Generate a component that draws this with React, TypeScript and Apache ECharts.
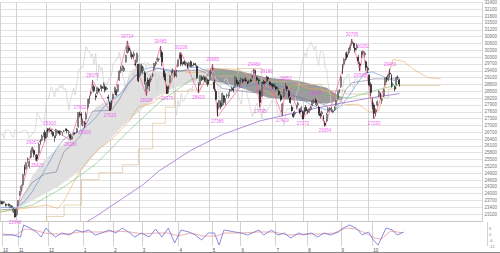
import React, { useEffect, useRef } from "react";
import * as echarts from "echarts";

// Trading days shown (Nikkei 225 daily, Oct 2020 - Oct 2021)
const tradingDays: [string, number[]][] = [
  ["2020-10", [19, 20, 21, 22, 23, 26, 27, 28, 29, 30]],
  ["2020-11", [2, 4, 5, 6, 9, 10, 11, 12, 13, 16, 17, 18, 19, 20, 24, 25, 26, 27, 30]],
  ["2020-12", [1, 2, 3, 4, 7, 8, 9, 10, 11, 14, 15, 16, 17, 18, 21, 22, 23, 24, 25, 28, 29, 30]],
  ["2021-01", [4, 5, 6, 7, 8, 12, 13, 14, 15, 18, 19, 20, 21, 22, 25, 26, 27, 28, 29]],
  ["2021-02", [1, 2, 3, 4, 5, 8, 9, 10, 12, 15, 16, 17, 18, 19, 22, 24, 25, 26]],
  ["2021-03", [1, 2, 3, 4, 5, 8, 9, 10, 11, 12, 15, 16, 17, 18, 19, 22, 23, 24, 25, 26, 29, 30, 31]],
  ["2021-04", [1, 2, 5, 6, 7, 8, 9, 12, 13, 14, 15, 16, 19, 20, 21, 22, 23, 26, 27, 28, 30]],
  ["2021-05", [6, 7, 10, 11, 12, 13, 14, 17, 18, 19, 20, 21, 24, 25, 26, 27, 28, 31]],
  ["2021-06", [1, 2, 3, 4, 7, 8, 9, 10, 11, 14, 15, 16, 17, 18, 21, 22, 23, 24, 25, 28, 29, 30]],
  ["2021-07", [1, 2, 5, 6, 7, 8, 9, 12, 13, 14, 15, 16, 19, 20, 21, 26, 27, 28, 29, 30]],
  ["2021-08", [2, 3, 4, 5, 6, 10, 11, 12, 13, 16, 17, 18, 19, 20, 23, 24, 25, 26, 27, 30, 31]],
  ["2021-09", [1, 2, 3, 6, 7, 8, 9, 10, 13, 14, 15, 16, 17, 21, 22, 24, 27, 28, 29, 30]],
  ["2021-10", [1, 4, 5, 6, 7, 8, 11, 12, 13, 14, 15, 18, 19, 20, 21, 22, 25, 26, 27, 28]],
];
const futureSlots = 52;

// [open, close, low, high]
const candles: number[][] = [
  // Oct 2020
  [23550, 23671, 23540, 23700], [23640, 23567, 23520, 23680], [23600, 23639, 23560, 23680], [23550, 23474, 23430, 23580],
  [23510, 23516, 23440, 23560], [23540, 23494, 23440, 23570], [23400, 23485, 23380, 23520], [23450, 23418, 23390, 23500],
  [23200, 23331, 23150, 23400], [23300, 22977, 22948, 23320],
  // Nov
  [23080, 23295, 23000, 23300], [23500, 23695, 23450, 23720], [23950, 24105, 23900, 24120], [24150, 24325, 24100, 24400],
  [24400, 24839, 24350, 24850], [25200, 24905, 24800, 25280], [25100, 25349, 25050, 25400], [25500, 25520, 25350, 25600],
  [25200, 25385, 25100, 25450], [25600, 25906, 25550, 25910], [25950, 26014, 25800, 26057], [25900, 25728, 25600, 25950],
  [25500, 25634, 25450, 25700], [25700, 25527, 25420, 25750], [25800, 26165, 25700, 26250], [26300, 26297, 26150, 26400],
  [26350, 26537, 26300, 26600], [26600, 26644, 26500, 26700], [26700, 26433, 26300, 26800],
  // Dec
  [26500, 26787, 26450, 26800], [26850, 26800, 26700, 26880], [26750, 26809, 26700, 26900], [26800, 26751, 26600, 26820],
  [26700, 26547, 26500, 26750], [26500, 26467, 26280, 26550], [26550, 26817, 26500, 26850], [26700, 26756, 26650, 26800],
  [26750, 26652, 26550, 26780], [26700, 26732, 26600, 26780], [26650, 26687, 26550, 26700], [26750, 26757, 26700, 26800],
  [26850, 26806, 26750, 26850], [26800, 26763, 26650, 26850], [26700, 26714, 26550, 26800], [26600, 26436, 26360, 26650],
  [26400, 26524, 26380, 26550], [26600, 26668, 26550, 26700], [26650, 26656, 26600, 26700], [26700, 26854, 26650, 26900],
  [26950, 27568, 26900, 27580], [27500, 27444, 27350, 27602],
  // Jan 2021
  [27500, 27258, 27000, 27580], [27150, 27158, 26950, 27280], [27100, 27055, 26900, 27200], [27300, 27490, 27250, 27600],
  [27800, 28139, 27700, 28150], [28000, 28164, 27950, 28300], [28400, 28456, 28300, 28500], [28600, 28698, 28500, 28979],
  [28700, 28519, 28450, 28800], [28300, 28242, 28100, 28400], [28400, 28633, 28350, 28700], [28600, 28523, 28450, 28650],
  [28700, 28756, 28600, 28800], [28700, 28631, 28500, 28760], [28700, 28822, 28600, 28900], [28700, 28546, 28450, 28750],
  [28600, 28635, 28550, 28700], [28250, 28197, 28050, 28350], [28000, 27663, 27629, 28050],
  // Feb
  [27800, 28091, 27700, 28100], [28200, 28362, 28150, 28400], [28500, 28646, 28450, 28700], [28500, 28341, 28300, 28600],
  [28500, 28779, 28450, 28800], [29000, 29388, 28950, 29400], [29400, 29505, 29300, 29600], [29500, 29562, 29400, 29650],
  [29400, 29520, 29350, 29600], [29800, 30084, 29750, 30100], [30200, 30467, 30150, 30714], [30400, 30292, 30200, 30500],
  [30200, 30236, 30000, 30300], [30100, 30017, 29900, 30200], [30050, 30156, 29950, 30250], [29700, 29671, 29600, 29900],
  [29800, 30168, 29750, 30200], [29700, 28966, 28900, 29700],
  // Mar
  [29200, 29663, 29100, 29700], [29600, 29408, 29300, 29700], [29400, 29559, 29300, 29600], [29300, 28930, 28800, 29400],
  [28500, 28864, 28308, 28900], [29000, 28743, 28600, 29100], [28700, 29027, 28500, 29100], [29000, 29036, 28900, 29200],
  [29200, 29211, 29100, 29300], [29500, 29717, 29400, 29750], [29700, 29766, 29600, 29800], [29900, 29921, 29800, 30000],
  [29900, 29914, 29800, 29950], [30100, 30216, 30000, 30485], [30200, 29792, 29600, 30300], [29400, 29174, 29100, 29500],
  [29200, 28995, 28900, 29300], [28700, 28405, 28379, 28800], [28600, 28729, 28400, 28750], [28900, 29176, 28850, 29200],
  [29300, 29384, 29200, 29400], [29400, 29432, 29300, 29500], [29300, 29178, 29100, 29400],
  // Apr
  [29200, 29388, 29100, 29450], [29600, 29854, 29550, 29900], [30000, 30089, 29900, 30200], [30100, 29696, 29600, 30208],
  [29700, 29730, 29600, 29800], [29800, 29708, 29650, 29850], [29700, 29768, 29600, 29800], [29700, 29538, 29500, 29750],
  [29600, 29751, 29550, 29800], [29800, 29620, 29550, 29850], [29600, 29642, 29550, 29700], [29700, 29683, 29600, 29750],
  [29700, 29685, 29600, 29750], [29600, 29100, 29050, 29650], [28800, 28508, 28419, 28900], [28800, 29188, 28750, 29200],
  [29100, 29020, 28950, 29200], [29100, 29126, 29000, 29200], [29100, 28991, 28900, 29150], [28900, 29053, 28800, 29100],
  [29000, 28812, 28700, 29050],
  // May
  [29000, 29331, 28950, 29400], [29300, 29357, 29200, 29450], [29500, 29518, 29400, 29685], [28900, 28608, 28500, 29000],
  [28500, 28147, 28100, 28600], [28000, 27448, 27385, 28000], [27800, 28084, 27700, 28100], [28000, 27824, 27700, 28100],
  [27900, 28406, 27850, 28450], [28300, 28044, 27900, 28350], [28000, 28098, 27900, 28200], [28300, 28317, 28200, 28400],
  [28300, 28364, 28200, 28450], [28500, 28553, 28400, 28600], [28600, 28642, 28500, 28700], [28600, 28549, 28450, 28700],
  [28700, 29149, 28650, 29170], [29000, 28860, 28800, 29100],
  // Jun
  [28900, 28814, 28700, 29000], [28800, 28946, 28700, 29000], [29000, 29058, 28900, 29100], [29000, 28941, 28850, 29050],
  [29000, 29019, 28950, 29100], [29000, 28963, 28900, 29100], [28900, 28860, 28800, 28950], [28900, 28958, 28850, 29000],
  [29000, 28948, 28900, 29050], [29100, 29161, 29050, 29200], [29300, 29441, 29250, 29480], [29400, 29291, 29200, 29450],
  [29100, 29018, 28950, 29150], [29000, 28964, 28800, 29050], [28500, 28010, 27795, 28550], [28300, 28884, 28250, 28900],
  [28900, 28874, 28800, 29000], [28900, 28875, 28800, 28950], [28950, 29066, 28900, 29180], [29100, 29048, 28950, 29150],
  [28900, 28812, 28750, 28950], [28800, 28791, 28700, 28850],
  // Jul
  [28800, 28707, 28600, 28850], [28700, 28783, 28650, 28850], [28700, 28598, 28550, 28750], [28600, 28643, 28550, 28700],
  [28500, 28366, 28300, 28550], [28300, 28118, 28050, 28400], [27600, 27940, 27419, 28000], [28300, 28569, 28250, 28600],
  [28700, 28718, 28600, 28852], [28700, 28608, 28500, 28750], [28500, 28279, 28200, 28550], [28200, 28003, 27950, 28250],
  [27800, 27652, 27600, 27900], [27500, 27388, 27330, 27600], [27500, 27548, 27400, 27650], [27800, 27833, 27700, 27900],
  [27900, 27970, 27850, 28050], [27700, 27581, 27500, 27750], [27700, 27782, 27600, 27850], [27600, 27283, 27272, 27650],
  // Aug
  [27500, 27781, 27450, 27800], [27800, 27641, 27600, 27900], [27600, 27584, 27500, 27700], [27600, 27728, 27550, 27750],
  [27700, 27820, 27650, 27850], [27900, 28070, 27850, 28100], [28000, 28070, 27950, 28150], [28100, 28015, 27900, 28200],
  [27900, 27977, 27850, 28050], [27800, 27523, 27450, 27850], [27500, 27424, 27300, 27550], [27500, 27585, 27400, 27650],
  [27400, 27281, 27200, 27450], [27100, 27013, 26954, 27200], [27200, 27494, 27150, 27550], [27600, 27732, 27550, 27800],
  [27700, 27724, 27650, 27800], [27700, 27742, 27600, 27800], [27600, 27641, 27550, 27700], [27700, 27789, 27650, 27850],
  [27900, 28089, 27850, 28100],
  // Sep
  [28200, 28451, 28150, 28500], [28500, 28543, 28400, 28600], [28700, 29128, 28650, 29150], [29300, 29659, 29250, 29700],
  [29700, 29916, 29650, 29950], [29900, 30181, 29850, 30200], [30100, 30008, 29950, 30250], [30200, 30381, 30100, 30400],
  [30400, 30447, 30300, 30550], [30600, 30670, 30500, 30795], [30600, 30511, 30400, 30650], [30400, 30323, 30200, 30500],
  [30400, 30500, 30300, 30600], [30000, 29839, 29700, 30100], [29700, 29639, 29388, 29800], [30000, 30248, 29950, 30250],
  [30200, 30240, 30100, 30282], [30100, 30183, 30000, 30250], [29800, 29544, 29400, 29850], [29500, 29452, 29300, 29600],
  // Oct
  [29200, 28771, 28700, 29250], [28800, 28444, 28300, 28900], [28100, 27822, 27700, 28200], [27900, 27528, 27293, 28000],
  [27600, 27678, 27400, 27750], [27900, 28048, 27850, 28100], [28300, 28498, 28250, 28550], [28400, 28230, 28150, 28450],
  [28100, 28140, 27950, 28200], [28300, 28550, 28250, 28600], [28800, 29068, 28750, 29100], [29100, 29025, 28900, 29150],
  [29000, 29215, 28950, 29250], [29300, 29255, 29100, 29489], [29200, 28708, 28650, 29250], [28800, 28804, 28700, 28900],
  [28700, 28600, 28500, 28750], [28800, 29106, 28750, 29150], [29100, 29098, 29000, 29200], [29000, 28820, 28700, 29050],
];

// Swing points (index, price)
const swingHighs: number[][] = [
  [20, 26057], [31, 26900], [50, 27602], [58, 28979], [80, 30714], [101, 30485], [114, 30208], [134, 29685],
  [160, 29480], [168, 29180], [180, 28852], [199, 28200], [222, 30795], [229, 30282], [246, 29489],
];
const swingLows: number[][] = [
  [9, 22948], [23, 25420], [44, 26360], [53, 26900], [69, 27629], [92, 28308], [105, 28379], [125, 28419],
  [137, 27385], [164, 27795], [178, 27419], [191, 27272], [205, 26954], [227, 29388], [236, 27293],
];

// Moving averages (index, price)
const ma25: number[][] = [
  [0, 23400], [10, 23380], [15, 23650], [20, 24100], [25, 24700], [30, 25300], [35, 25950], [40, 26400], [45, 26600],
  [50, 26750], [55, 27000], [60, 27350], [65, 27800], [70, 28100], [75, 28350], [80, 28750], [85, 29200], [90, 29450],
  [95, 29550], [100, 29500], [105, 29400], [110, 29350], [115, 29400], [120, 29550], [125, 29550], [130, 29400],
  [135, 29250], [140, 28950], [145, 28700], [150, 28650], [155, 28700], [160, 28800], [165, 28850], [170, 28850],
  [175, 28800], [180, 28600], [185, 28350], [190, 28150], [195, 27950], [200, 27800], [205, 27700], [210, 27600],
  [215, 27850], [220, 28300], [225, 28800], [230, 29300], [235, 29350], [240, 29200], [245, 29050], [252, 28900],
];
const ma75: number[][] = [
  [0, 23200], [20, 23500], [40, 24300], [60, 25300], [80, 26700], [100, 28000], [120, 29000], [140, 29350],
  [160, 29000], [180, 28800], [200, 28400], [220, 28200], [240, 28600], [252, 28800],
];
const ma200: number[][] = [
  [40, 22300], [48, 22500], [60, 23000], [75, 23700], [90, 24400], [100, 25000], [120, 25900], [140, 26600],
  [164, 27200], [192, 27650], [213, 27950], [233, 28200], [252, 28400],
];
const kijun: number[][] = [
  [0, 23300], [10, 23324], [14, 23900], [20, 24500], [28, 24875], [35, 24950], [38, 25500], [40, 25850], [45, 26150],
  [50, 26510], [55, 27213], [58, 27627], [70, 27665], [75, 28150], [80, 28807], [85, 29171], [100, 29511],
  [110, 29396], [125, 29432], [130, 29294], [137, 28797], [140, 28618], [150, 28535], [160, 28433], [166, 28638],
  [178, 28450], [187, 28255], [195, 28111], [205, 27903], [210, 27577], [215, 28052], [218, 28577], [222, 28875],
  [231, 28972], [236, 29044], [252, 29044],
];
const spanA: number[][] = [
  [0, 23200], [29, 23500], [36, 23350], [40, 23670], [45, 24360], [51, 25090], [56, 25525], [62, 25960], [70, 26375],
  [77, 26875], [81, 27175], [87, 27815], [96, 27980], [104, 28430], [110, 29430], [118, 29340], [126, 29330],
  [134, 29470], [142, 29490], [150, 29470], [158, 29110], [165, 28610], [172, 28315], [180, 28640], [188, 28785],
  [195, 28615], [203, 28595], [210, 28330], [218, 27910], [226, 27930], [233, 27580], [239, 27650], [245, 29200],
  [248, 29900], [255, 29800], [260, 29500], [265, 29300], [270, 29100], [278, 29050],
];
const spanB: number[][] = [
  [0, 22600], [29, 23000], [40, 23500], [51, 24620], [62, 24920], [77, 25270], [87, 25970], [96, 27090],
  [104, 27800], [110, 28500], [118, 28560], [126, 28800], [134, 29170], [150, 29500], [165, 28935], [188, 28800],
  [203, 28535], [218, 28375], [233, 28217], [245, 28600], [250, 28750], [278, 28750],
];

// Cloud fills
const lightUpper: number[][] = [
  [12, 23500], [20, 24800], [28, 25500], [36, 26000], [44, 26400], [52, 26900], [60, 27800], [68, 28100],
  [76, 28450], [84, 29500], [92, 29300], [100, 29350], [108, 29400], [116, 29400], [124, 29450], [133, 29530],
];
const lightLower: number[][] = [
  [12, 23400], [20, 23700], [28, 24000], [36, 24300], [44, 24700], [52, 25100], [60, 25800], [68, 26300],
  [76, 26900], [84, 27400], [92, 27900], [100, 28300], [108, 28600], [116, 28800], [124, 28950], [133, 28960],
];
const darkUpper: number[][] = [
  [133, 29530], [150, 29400], [169, 29090], [188, 28960], [206, 28650], [216, 28200],
];
const darkLower: number[][] = [
  [133, 28960], [150, 28700], [169, 28210], [188, 28080], [206, 27950], [216, 28150],
];

// Oscillator (lower panel)
const oscFast: number[][] = [
  [0, -1], [6, -1], [11, -3], [13, 9], [17, 6], [21, 2], [24, -3], [27, 6], [30, 1], [33, -3], [37, 1], [42, -1],
  [46, 4], [50, 2], [54, 4], [58, -1], [62, 1], [67, 4], [71, 1], [75, 6], [79, 2], [83, -3], [87, 1], [92, -3],
  [96, 5], [100, -3], [104, 6], [108, -9], [112, 4], [117, 2], [121, -1], [125, -6], [129, 1], [133, 1], [136, -11],
  [139, 4], [146, 2], [150, 1], [154, -1], [161, 4], [164, -1], [169, 4], [173, -1], [177, 1], [181, -4], [186, 1],
  [189, -1], [194, 1], [198, -3], [202, 1], [206, -1], [211, 2], [214, 6], [218, 9], [222, 6], [226, -1], [230, 2],
  [233, -6], [236, -11], [241, 6], [245, 4], [248, -1], [252, 2],
];
const oscSlow: number[][] = [
  [0, 0], [8, -1], [14, 5], [20, 4], [26, 1], [32, 0], [40, 0], [48, 2], [56, 2], [64, 2], [72, 3], [80, 2],
  [88, 0], [96, 1], [104, 1], [110, -2], [118, 1], [126, -2], [134, -2], [140, 1], [150, 1], [160, 2], [170, 2],
  [180, -1], [190, 0], [200, 0], [208, 1], [216, 6], [222, 5], [228, 1], [234, -4], [238, -5], [244, 3], [252, 1],
];

export default function App() {
  const ref = useRef<HTMLDivElement>(null);
  useEffect(() => {
    document.body.style.margin = "0";
    const categories: string[] = [];
    const monthStart = new Set<number>();
    tradingDays.forEach(([ym, days]) => {
      monthStart.add(categories.length);
      days.forEach((d) => categories.push(`${ym}-${String(d).padStart(2, "0")}`));
    });
    for (let k = 1; k <= futureSlots; k++) categories.push(`+${k}`);

    const closes = candles.map((c) => c[1]);
    const chikou = closes.slice(26).map((v, k) => [k, v]);
    const zigzag = [...swingHighs, ...swingLows].sort((a, b) => a[0] - b[0]);

    const isMonth = (i: number) => monthStart.has(i);
    const lineS = (data: number[][], color: string, width = 0.8, extra: any = {}) => ({
      type: "line", data, xAxisIndex: 0, yAxisIndex: 0, showSymbol: false, symbol: "none",
      lineStyle: { color, width }, z: 3, silent: true, clip: true, ...extra,
    });
    const poly = (upper: number[][], lower: number[][], fill: string) => ({
      type: "custom", xAxisIndex: 0, yAxisIndex: 0, clip: true, z: 1, silent: true,
      data: [[upper[0][0], upper[0][1]]],
      renderItem: (_p: any, api: any) => {
        const pts = upper.map((p) => api.coord([p[0], p[1]]))
          .concat(lower.slice().reverse().map((p) => api.coord([p[0], p[1]])));
        return { type: "polygon", shape: { points: pts }, style: { fill, stroke: "none" } };
      },
    });
    const labelS = (data: number[][], pos: string) => ({
      type: "scatter", data, xAxisIndex: 0, yAxisIndex: 0, symbol: "circle", symbolSize: 1, z: 6, silent: true,
      itemStyle: { color: "rgba(0,0,0,0)" },
      label: { show: true, position: pos, distance: 1.5, fontSize: 4.5, color: "#f03cf0",
        formatter: (p: any) => String(p.value[1]) },
    });

    const option: any = {
      animation: false,
      textStyle: { fontFamily: "Liberation Sans, Arial, sans-serif" },
      grid: [
        { left: 0, right: 13, top: 2, height: 219 },
        { left: 0, right: 13, top: 222, height: 24 },
      ],
      xAxis: [
        {
          type: "category", gridIndex: 0, data: categories, boundaryGap: true,
          axisLine: { show: true, lineStyle: { color: "#c8c8c8", width: 1 } },
          axisTick: { show: false }, axisLabel: { show: false },
          splitLine: { show: true, interval: (i: number) => isMonth(i), lineStyle: { color: "#d2d2d2", width: 1 } },
        },
        {
          type: "category", gridIndex: 1, data: categories, boundaryGap: true,
          axisLine: { show: false }, axisTick: { show: false },
          axisLabel: {
            show: true, interval: (i: number) => isMonth(i), fontSize: 4.5, color: "#555", margin: 2, align: "left",
            formatter: (v: string) => String(parseInt(v.slice(5, 7), 10)),
          },
          splitLine: { show: true, interval: (i: number) => isMonth(i), lineStyle: { color: "#d2d2d2", width: 1 } },
        },
      ],
      yAxis: [
        {
          type: "value", gridIndex: 0, position: "right", min: 22800, max: 32400, interval: 300,
          axisLine: { show: false }, axisTick: { show: false },
          axisLabel: { fontSize: 4.5, color: "#777", margin: 2, showMinLabel: false, formatter: (v: number) => String(v) },
          splitLine: { show: true, lineStyle: { color: "#e2e2e2", width: 1 } },
        },
        {
          type: "value", gridIndex: 1, position: "right", min: -12, max: 12, interval: 6,
          axisLine: { show: false }, axisTick: { show: false },
          axisLabel: { fontSize: 4, color: "#888", margin: 2, showMaxLabel: false, formatter: (v: number) => String(v) },
          splitLine: { show: false },
        },
      ],
      series: [
        poly(lightUpper, lightLower, "#e0e0e0"),
        poly(darkUpper, darkLower, "#9c9c9c"),
        lineS(chikou, "#cfcfcf", 0.7),
        lineS(spanB, "#dcb888", 0.6, { step: "end" }),
        lineS(spanA, "#f0a858", 0.6),
        lineS(ma200, "#a070d0", 0.8),
        lineS(ma75, "#6cc06c", 0.6),
        lineS(ma25, "#5a8ad8", 0.6),
        lineS(kijun, "#7a7a98", 0.6),
        lineS(zigzag, "#ff5c9a", 0.7, { z: 4 }),
        {
          type: "candlestick", data: candles, xAxisIndex: 0, yAxisIndex: 0, barWidth: 1.4, z: 5, silent: true,
          itemStyle: { color: "#ffffff", color0: "#111111", borderColor: "#333333", borderColor0: "#111111", borderWidth: 0.6 },
        },
        labelS(swingHighs, "top"),
        labelS(swingLows, "bottom"),
        {
          type: "line", data: oscSlow, xAxisIndex: 1, yAxisIndex: 1, showSymbol: false, symbol: "none",
          lineStyle: { color: "#e89a9a", width: 0.8 }, silent: true,
        },
        {
          type: "line", data: oscFast, xAxisIndex: 1, yAxisIndex: 1, showSymbol: false, symbol: "none",
          lineStyle: { color: "#6f6fd8", width: 0.8 }, silent: true,
        },
      ],
      graphic: [
        { type: "line", shape: { x1: 0, y1: 252.5, x2: 500, y2: 252.5 }, style: { stroke: "#888", lineWidth: 1 }, silent: true },
      ],
    };
    const chart = echarts.init(ref.current!, null, { renderer: "svg" });
    chart.setOption(option);
    return () => chart.dispose();
  }, []);
  return <div ref={ref} style={{ width: 500, height: 253 }} />;
}
